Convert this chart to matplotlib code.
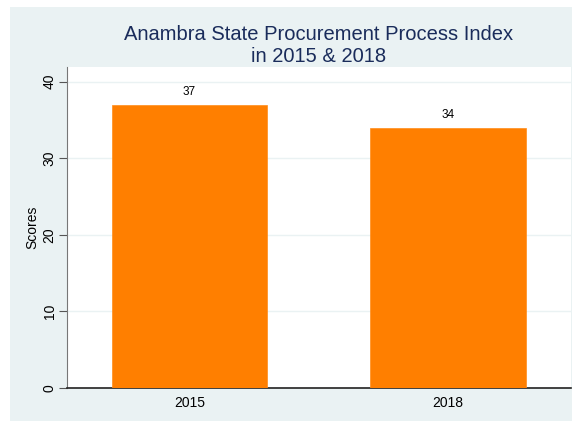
import matplotlib.pyplot as plt
from matplotlib.patches import Rectangle

years = ['2015', '2018']
scores = [37, 34]
yticks = [0, 10, 20, 30, 40]

W, H = 573, 421
fig = plt.figure(figsize=(W / 100, H / 100), dpi=100)
plt.rcParams['font.family'] = ['Liberation Sans', 'DejaVu Sans']

# graph region (light blue-gray) inside a thin white margin
fig.patches.append(Rectangle((10 / W, 0), 562 / W, 414 / H, transform=fig.transFigure,
                             facecolor='#eaf2f3', edgecolor='none', zorder=-5))

ax = fig.add_axes([67 / W, (H - 388) / H, 504 / W, 321 / H])
ax.set_zorder(1)
ax.set_facecolor('white')

x = range(len(years))
bars = ax.bar(x, scores, width=0.603, color='#ff7f00', edgecolor='#ff8c1a', linewidth=0.5, zorder=3)
for xi, v in zip(x, scores):
    ax.text(xi, v + 0.9, str(v), ha='center', va='bottom', fontsize=8.5, color='black')

ax.set_xlim(-0.474, 1.476)
ax.set_ylim(0, 41.9)
ax.set_xticks(list(x))
ax.set_xticklabels(years, fontsize=10)
ax.tick_params(axis='x', length=0, pad=6)
ax.set_yticks(yticks)
ax.set_yticklabels([str(t) for t in yticks], rotation=90, va='center', fontsize=10)
ax.tick_params(axis='y', length=5.5, color='#555555', pad=2)
ax.grid(axis='y', color='#eaf2f3', linewidth=1, zorder=0)

ax.spines['top'].set_visible(False)
ax.spines['right'].set_visible(False)
ax.spines['left'].set_color('#777777')
ax.spines['bottom'].set_color('#222222')
ax.spines['bottom'].set_linewidth(1.2)

ax.set_ylabel('Scores', fontsize=10, labelpad=2.5)

fig.text(319 / W, 1 - 35 / H, 'Anambra State Procurement Process Index', ha='center', va='center',
         fontsize=14.5, color='#1a2c5b')
fig.text(319 / W, 1 - 56 / H, 'in 2015 & 2018', ha='center', va='center',
         fontsize=14.5, color='#1a2c5b')

fig.savefig('out.png', dpi=100)
